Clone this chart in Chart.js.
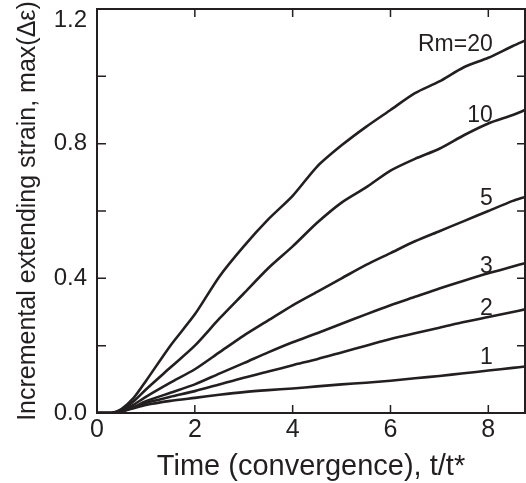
<!DOCTYPE html>
<html>
<head>
<meta charset="utf-8">
<script src="https://cdn.jsdelivr.net/npm/chart.js@4/dist/chart.umd.min.js"></script>
<style>
  html, body { margin: 0; padding: 0; background: #fff; }
  canvas { display: block; }
</style>
</head>
<body>
<canvas id="strain" width="526" height="483"></canvas>
<script>
// time (convergence), t/t*
const time = [0, 0.3, 0.5, 0.75, 1, 1.5, 2, 2.5, 3, 3.5, 4, 4.5, 5, 5.5, 6, 6.5, 7, 7.5, 8, 8.5, 8.75];

// max incremental extending strain for each Rm
const rm20 = [0, 0, 0.012, 0.045, 0.095, 0.2, 0.293, 0.405, 0.495, 0.575, 0.645, 0.732, 0.795, 0.85, 0.9, 0.95, 0.985, 1.027, 1.055, 1.09, 1.106];
const rm10 = [0, 0, 0.01, 0.035, 0.07, 0.135, 0.2, 0.28, 0.355, 0.43, 0.495, 0.565, 0.625, 0.67, 0.72, 0.755, 0.785, 0.825, 0.86, 0.885, 0.9];
const rm5  = [0, 0, 0.007, 0.025, 0.048, 0.09, 0.13, 0.18, 0.23, 0.275, 0.32, 0.36, 0.4, 0.44, 0.475, 0.51, 0.54, 0.57, 0.6, 0.63, 0.642];
const rm3  = [0, 0, 0.005, 0.018, 0.035, 0.06, 0.085, 0.117, 0.148, 0.18, 0.21, 0.237, 0.265, 0.293, 0.32, 0.345, 0.37, 0.393, 0.415, 0.435, 0.445];
const rm2  = [0, 0, 0.005, 0.016, 0.03, 0.048, 0.065, 0.085, 0.105, 0.123, 0.142, 0.16, 0.18, 0.2, 0.22, 0.237, 0.253, 0.27, 0.285, 0.3, 0.308];
const rm1  = [0, 0, 0.005, 0.014, 0.024, 0.036, 0.045, 0.054, 0.062, 0.068, 0.073, 0.079, 0.085, 0.09, 0.096, 0.103, 0.11, 0.118, 0.126, 0.134, 0.138];

const seriesNames = ['Rm=20', '10', '5', '3', '2', '1'];
const series = [rm20, rm10, rm5, rm3, rm2, rm1];

// axis ticks
const xTicks = [0, 2, 4, 6, 8];
const yTicks = [0, 0.4, 0.8, 1.2];
const yMinor = [0.2, 0.4, 0.6, 0.8, 1.0];

// where the curve names sit (data units, right aligned)
const curveLabels = [
  { text: 'Rm=20', x: 8.09, y: 1.076 },
  { text: '10', x: 8.09, y: 0.865 },
  { text: '5', x: 8.09, y: 0.618 },
  { text: '3', x: 8.09, y: 0.417 },
  { text: '2', x: 8.09, y: 0.291 },
  { text: '1', x: 8.09, y: 0.146 }
];

const ink = '#231f20';
const fam = '"Liberation Sans", Arial, Helvetica, sans-serif';

// box round the plot with inward tick marks, plus curve names
const frame = {
  id: 'frame',
  afterDatasetsDraw(chart) {
    const { ctx, chartArea: a, scales: { x, y } } = chart;
    ctx.save();
    ctx.strokeStyle = ink;
    ctx.lineWidth = 2;
    ctx.strokeRect(a.left, a.top, a.right - a.left, a.bottom - a.top);
    ctx.lineWidth = 1.5;
    ctx.beginPath();
    xTicks.slice(1).forEach(v => {
      const p = x.getPixelForValue(v);
      ctx.moveTo(p, a.bottom); ctx.lineTo(p, a.bottom - 8);
      ctx.moveTo(p, a.top); ctx.lineTo(p, a.top + 8);
    });
    yMinor.forEach(v => {
      const p = y.getPixelForValue(v);
      ctx.moveTo(a.left, p); ctx.lineTo(a.left + 9, p);
      ctx.moveTo(a.right, p); ctx.lineTo(a.right - 8, p);
    });
    ctx.stroke();

    ctx.fillStyle = ink;
    ctx.font = '23px ' + fam;
    ctx.textAlign = 'right';
    ctx.textBaseline = 'alphabetic';
    curveLabels.forEach(l => ctx.fillText(l.text, x.getPixelForValue(l.x), y.getPixelForValue(l.y)));
    ctx.restore();
  }
};

new Chart(document.getElementById('strain'), {
  type: 'line',
  data: {
    datasets: series.map((s, i) => ({
      label: seriesNames[i],
      data: time.map((t, j) => ({ x: t, y: s[j] })),
      borderColor: ink,
      borderWidth: 2.6,
      pointRadius: 0,
      tension: 0.25,
      fill: false
    }))
  },
  options: {
    responsive: false,
    animation: false,
    layout: { padding: { top: 9, right: 1, left: 0, bottom: 0 } },
    plugins: { legend: { display: false }, tooltip: { enabled: false } },
    scales: {
      x: {
        type: 'linear',
        min: 0,
        max: 8.75,
        grid: { display: false, drawTicks: false },
        border: { display: false },
        afterBuildTicks: s => { s.ticks = xTicks.map(v => ({ value: v })); },
        afterFit: s => { s.height = 70; s.paddingLeft = 0; s.paddingRight = 0; },
        ticks: { color: ink, padding: 2, maxRotation: 0, font: { family: fam, size: 25 }, callback: v => String(v) },
        title: {
          display: true,
          text: 'Time (convergence), t/t*',
          color: ink,
          padding: { top: 0, bottom: 0 },
          font: { family: fam, size: 29, lineHeight: 1.1 }
        }
      },
      y: {
        min: 0,
        max: 1.2,
        grid: { display: false, drawTicks: false },
        border: { display: false },
        afterBuildTicks: s => { s.ticks = yTicks.map(v => ({ value: v })); },
        afterFit: s => { s.width = 97; s.paddingTop = 0; s.paddingBottom = 0; },
        ticks: {
          color: ink,
          padding: 10,
          font: { family: fam, size: 24, lineHeight: 0.92 },
          // top label sits just under the frame, as in the original
          callback: v => v === 1.2 ? ['', v.toFixed(1)] : v.toFixed(1)
        },
        title: {
          display: true,
          text: 'Incremental extending strain, max(\u0394\u03b5)',
          color: ink,
          padding: { top: 13, bottom: 0 },
          font: { family: fam, size: 25 }
        }
      }
    }
  },
  plugins: [frame]
});
</script>
</body>
</html>
